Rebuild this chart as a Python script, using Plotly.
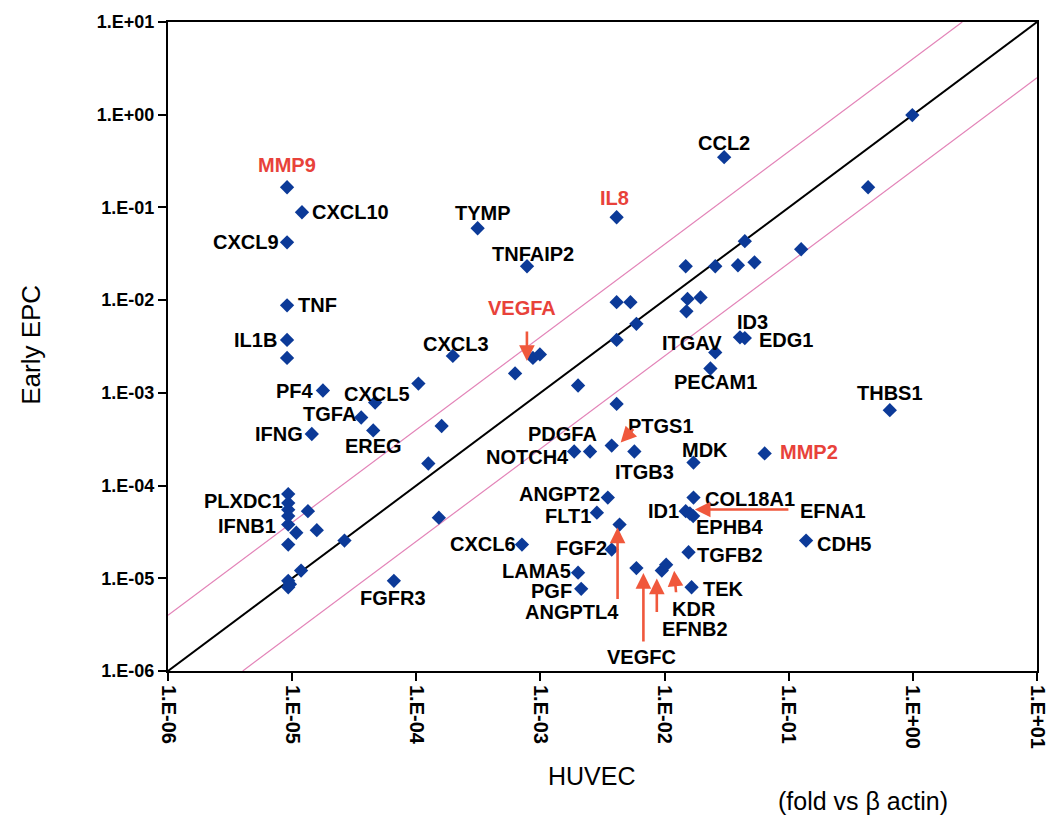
import math
import plotly.graph_objects as go

# ---------------- data ----------------
genes = ["MMP9", "CXCL10", "CXCL9", "TNF", "IL1B", "PF4", "TGFA", "CXCL5", "IFNG", "EREG",
         "CXCL3", "TYMP", "IL8", "TNFAIP2", "VEGFA", "CCL2", "ITGAV", "ID3", "EDG1", "PECAM1",
         "THBS1", "MMP2", "MDK", "NOTCH4", "PDGFA", "PTGS1", "ITGB3", "ANGPT2", "FLT1", "ANGPTL4",
         "FGF2", "CXCL6", "LAMA5", "PGF", "VEGFC", "EFNB2", "KDR", "TEK", "COL18A1", "ID1",
         "EPHB4", "EFNA1", "TGFB2", "CDH5", "PLXDC1", "IFNB1", "FGFR3"]
huvec = [9.1e-6, 1.2e-5, 9.1e-6, 9.1e-6, 9.1e-6, 1.77e-5, 3.6e-5, 4.66e-5, 1.44e-5, 4.5e-5,
         1.97e-4, 3.12e-4, 4.11e-3, 7.8e-4, 8.7e-4, 3.02e-2, 2.56e-2, 4.05e-2, 4.43e-2, 2.34e-2,
         0.652, 6.4e-2, 1.71e-2, 1.87e-3, 2.51e-3, 3.75e-3, 5.71e-3, 3.49e-3, 2.85e-3, 4.34e-3,
         3.75e-3, 7.1e-4, 2.01e-3, 2.13e-3, 5.93e-3, 9.5e-3, 1.03e-2, 1.65e-2, 1.71e-2, 1.48e-2,
         1.7e-2, 1.6e-2, 1.56e-2, 0.138, 9.3e-6, 9.3e-6, 6.6e-5]
early_epc = [0.165, 0.0887, 0.042, 8.8e-3, 3.72e-3, 1.06e-3, 5.42e-4, 7.87e-4, 3.6e-4, 3.93e-4,
             2.5e-3, 0.0596, 0.0784, 0.0232, 2.38e-3, 0.348, 2.73e-3, 3.97e-3, 3.9e-3, 1.83e-3,
             6.5e-4, 2.22e-4, 1.77e-4, 2.33e-4, 2.33e-4, 2.7e-4, 2.33e-4, 7.42e-5, 5.1e-5, 3.8e-5,
             2.04e-5, 2.31e-5, 1.15e-5, 7.7e-6, 1.29e-5, 1.21e-5, 1.4e-5, 8.0e-6, 7.42e-5, 5.3e-5,
             4.69e-5, 5.0e-5, 1.91e-5, 2.55e-5, 6.47e-5, 3.8e-5, 9.4e-6]

# unlabeled genes
other_huvec = [9.1e-6, 1.04e-4, 1.6e-4, 1.25e-4, 1.52e-4, 9.3e-6, 9.3e-6, 9.3e-6, 1.34e-5, 1.08e-5,
               1.58e-5, 9.3e-6, 2.64e-5, 1.18e-5, 9.3e-6, 9.3e-6, 9.6e-6, 9.9e-4, 6.25e-4, 2.01e-3,
               4.11e-3, 4.11e-3, 5.31e-3, 5.93e-3, 4.11e-3, 1.48e-2, 2.56e-2, 3.9e-2, 5.3e-2, 4.43e-2,
               0.126, 0.436, 0.99, 1.53e-2, 1.95e-2, 1.5e-2]
other_epc = [2.38e-3, 1.26e-3, 4.39e-4, 1.73e-4, 4.51e-5, 8.1e-5, 5.5e-5, 4.69e-5, 5.3e-5, 3.1e-5,
             3.3e-5, 2.31e-5, 2.55e-5, 1.21e-5, 9.4e-6, 8.0e-6, 8.6e-6, 2.6e-3, 1.62e-3, 1.2e-3,
             7.6e-4, 9.5e-3, 9.5e-3, 5.55e-3, 3.72e-3, 0.0232, 0.0232, 0.0238, 0.0256, 0.0432,
             0.0354, 0.165, 0.99, 0.0103, 0.0107, 7.57e-3]

highlighted = ["MMP9", "IL8", "VEGFA", "MMP2"]
arrow_genes = ["VEGFA", "PTGS1", "ANGPTL4", "VEGFC", "EFNB2", "KDR", "EFNA1"]

tick_vals = [1e-6, 1e-5, 1e-4, 1e-3, 1e-2, 1e-1, 1e0, 1e1]
tick_labels = ["1.E-06", "1.E-05", "1.E-04", "1.E-03", "1.E-02", "1.E-01", "1.E+00", "1.E+01"]
fold = 4.0

# ---------------- styles ----------------
FONT = "Liberation Sans, Arial, sans-serif"
BLUE = "#0c3a98"
RED = "#e8423a"
ARROW = "#f0583c"
PINK = "#e384b8"

# label placement: gene -> (xanchor, dx px, dy px (down positive))
label_pos = {
    "MMP9": ("center", 0, -22), "CXCL10": ("left", 8, 0), "CXCL9": ("right", -6, 0),
    "TNF": ("left", 9, 0), "IL1B": ("right", -8, 0), "PF4": ("right", -7, 0),
    "TGFA": ("right", -3, -4), "CXCL5": ("center", 2, -9), "IFNG": ("right", -7, 0),
    "EREG": ("center", 0, 16), "CXCL3": ("center", 3, -12), "TYMP": ("center", 5, -15),
    "IL8": ("center", -2, -19), "TNFAIP2": ("center", 6, -12), "VEGFA": ("center", -11, -50),
    "CCL2": ("center", 0, -14), "ITGAV": ("center", -23, -9), "ID3": ("center", 13, -15),
    "EDG1": ("left", 12, 2), "PECAM1": ("center", 5, 13), "THBS1": ("center", 0, -17),
    "MMP2": ("left", 13, -1), "MDK": ("center", 11, -13), "NOTCH4": ("right", -3, 5),
    "PDGFA": ("center", -28, -18), "PTGS1": ("center", 49, -20), "ITGB3": ("center", 10, 20),
    "ANGPT2": ("right", -6, -4), "FLT1": ("right", -4, 3), "ANGPTL4": ("center", -48, 87),
    "FGF2": ("right", -3, -2), "CXCL6": ("right", -4, -1), "LAMA5": ("right", -5, -2),
    "PGF": ("right", -7, 2), "VEGFC": ("center", 5, 89), "EFNB2": ("center", 33, 58),
    "KDR": ("center", 28, 44), "TEK": ("left", 9, 2), "COL18A1": ("left", 9, 1),
    "ID1": ("right", -5, 0), "EPHB4": ("left", 1, 11), "EFNA1": ("left", 108, -2),
    "TGFB2": ("left", 6, 3), "CDH5": ("left", 9, 3), "PLXDC1": ("right", -3, -2),
    "IFNB1": ("right", -10, 1), "FGFR3": ("center", -1, 17),
}
# arrow: gene -> (tip dx, tip dy (down +), tail offset ax, ay)
arrow_pos = {
    "VEGFA": (-6, 3, 0, -31), "PTGS1": (9, -3, 14, -15), "ANGPTL4": (-2, 3, 0, 73),
    "VEGFC": (7, 5, 0, 70), "EFNB2": (-5, 8, 0, 35), "KDR": (8, 6, 2, 23),
    "EFNA1": (5, -4, 95, 0),
}

fig = go.Figure()

x_min, x_max = tick_vals[0], tick_vals[-1]
# reference lines (1:1 and +/- fold)
fig.add_trace(go.Scatter(x=[x_min, x_max], y=[x_min, x_max], mode="lines",
                         line=dict(color="black", width=2), hoverinfo="skip"))
fig.add_trace(go.Scatter(x=[x_min, x_max / fold], y=[x_min * fold, x_max], mode="lines",
                         line=dict(color=PINK, width=1.2), hoverinfo="skip"))
fig.add_trace(go.Scatter(x=[x_min * fold, x_max], y=[x_min, x_max / fold], mode="lines",
                         line=dict(color=PINK, width=1.2), hoverinfo="skip"))

fig.add_trace(go.Scatter(x=huvec + other_huvec, y=early_epc + other_epc, mode="markers",
                         marker=dict(symbol="diamond", size=11, color=BLUE),
                         hoverinfo="skip"))

annotations = []
for g, xv, yv in zip(genes, huvec, early_epc):
    anc, dx, dy = label_pos[g]
    annotations.append(dict(
        x=math.log10(xv), y=math.log10(yv), xref="x", yref="y",
        text=g, showarrow=False, xanchor=anc, yanchor="middle",
        xshift=dx, yshift=-dy,
        font=dict(family=FONT, size=20, color=RED if g in highlighted else "black",
                  weight="bold"),
    ))
for g in arrow_genes:
    i = genes.index(g)
    tdx, tdy, ax, ay = arrow_pos[g]
    annotations.append(dict(
        x=math.log10(huvec[i]), y=math.log10(early_epc[i]), xref="x", yref="y",
        text="", showarrow=True, ax=ax, ay=ay,
        xshift=tdx, yshift=-tdy,
        arrowhead=2, arrowsize=1.2, arrowwidth=2.6, arrowcolor=ARROW,
    ))

# axis titles
annotations.append(dict(xref="paper", yref="paper", x=0.488, y=-0.162, text="HUVEC",
                        showarrow=False, xanchor="center", yanchor="middle",
                        font=dict(family=FONT, size=25, color="black")))
annotations.append(dict(xref="paper", yref="paper", x=0.80, y=-0.2, text="(fold vs β actin)",
                        showarrow=False, xanchor="center", yanchor="middle",
                        font=dict(family=FONT, size=25, color="black")))
annotations.append(dict(xref="paper", yref="paper", x=-0.157, y=0.502, text="Early EPC",
                        showarrow=False, xanchor="center", yanchor="middle", textangle=-90,
                        font=dict(family=FONT, size=26, color="black")))

axis_common = dict(
    type="log", tickvals=tick_vals, ticktext=tick_labels, ticks="outside", ticklen=8,
    tickwidth=2, tickcolor="black", showline=True, linewidth=2, linecolor="black",
    mirror=True, showgrid=False, zeroline=False,
)

fig.update_layout(
    width=1060, height=832,
    margin=dict(l=168, r=11, t=22, b=161),
    paper_bgcolor="white", plot_bgcolor="white",
    showlegend=False,
    xaxis=dict(axis_common, range=[-6, 1], tickangle=90,
               tickfont=dict(family=FONT, size=20, color="black", weight="bold")),
    yaxis=dict(axis_common, range=[-6, 1],
               tickfont=dict(family=FONT, size=18, color="black", weight="bold")),
    annotations=annotations,
)

fig.write_html("out.html")
